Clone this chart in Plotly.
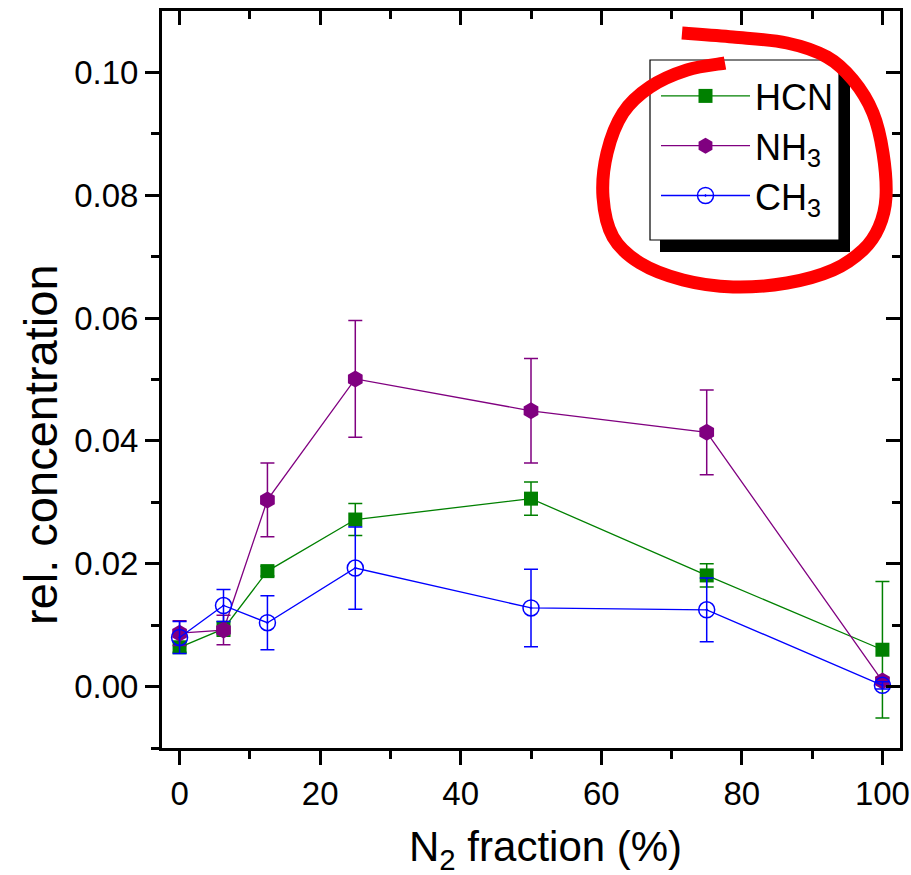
import plotly.graph_objects as go

# ---------------- data ----------------
n2_fraction = [0, 6.25, 12.5, 25, 50, 75, 100]
hcn = [0.0064, 0.0094, 0.0188, 0.0272, 0.0306, 0.0181, 0.0060]
hcn_err = [0.0008, 0.0012, 0.0008, 0.0026, 0.0027, 0.0019, 0.0111]
nh3 = [0.0087, 0.0092, 0.0304, 0.0501, 0.0449, 0.0414, 0.0009]
nh3_err = [0.0020, 0.0024, 0.0060, 0.0095, 0.0085, 0.0069, 0.0005]
ch3 = [0.0080, 0.0132, 0.0104, 0.0193, 0.0128, 0.0125, 0.0002]
ch3_err = [0.0026, 0.0026, 0.0044, 0.0067, 0.0063, 0.0052, 0.0006]

x_ticks = [0, 20, 40, 60, 80, 100]
x_minor = [10, 30, 50, 70, 90]
y_ticks = [0.00, 0.02, 0.04, 0.06, 0.08, 0.10]
y_minor = [-0.01, 0.01, 0.03, 0.05, 0.07, 0.09]

W, H = 911, 875
ML, MR, MT, MB = 162, 11, 11, 127
PW, PH = W - ML - MR, H - MT - MB
FONT = "Arial, Liberation Sans, sans-serif"


def px(xp):
    return (xp - ML) / PW


def py(yp):
    return 1 - (yp - MT) / PH


fig = go.Figure()
series = [
    ("HCN", hcn, hcn_err, "#008000", "square", 14, 0),
    ("NH<sub>3</sub>", nh3, nh3_err, "#800080", "hexagon", 17, 0),
    ("CH<sub>3</sub>", ch3, ch3_err, "#0000FF", "circle-open-dot", 16, 1.5),
]
for name, ys, es, col, sym, sz, lw in series:
    fig.add_trace(go.Scatter(
        x=n2_fraction, y=ys, name=name, mode="lines+markers",
        line=dict(color=col, width=1.3),
        marker=dict(symbol=sym, size=sz, color=col, line=dict(color=col, width=lw)),
        error_y=dict(type="data", array=es, color=col, thickness=1.5, width=7),
    ))
# empty trace so that the mirrored (top/right) frame axes are drawn
fig.add_trace(go.Scatter(x=[None], y=[None], xaxis="x2", yaxis="y2",
                         showlegend=False, hoverinfo="skip", mode="markers"))

axis_common = dict(showline=True, linecolor="black", linewidth=3, showgrid=False,
                   zeroline=False, tickcolor="black", tickwidth=2.5, automargin=False)

fig.update_layout(
    template="none",
    width=W, height=H,
    margin=dict(l=ML, r=MR, t=MT, b=MB),
    paper_bgcolor="white", plot_bgcolor="white",
    font=dict(family=FONT, color="black"),
    showlegend=True,
    legend=dict(x=px(656), y=py(66), xanchor="left", yanchor="top",
                bgcolor="rgba(0,0,0,0)", borderwidth=0,
                font=dict(size=36, family=FONT, color="black"), itemwidth=89),
    xaxis=dict(range=[-2.5, 102.5], ticks="outside", ticklen=14,
               tickvals=x_ticks, tickfont=dict(size=33),
               minor=dict(tickvals=x_minor, ticks="outside", ticklen=8,
                          tickwidth=2.5, tickcolor="black"),
               **axis_common),
    yaxis=dict(range=[-0.01, 0.11], ticks="outside", ticklen=14,
               tickvals=y_ticks, tickformat=".2f", tickfont=dict(size=33),
               minor=dict(tickvals=y_minor, ticks="outside", ticklen=8,
                          tickwidth=2.5, tickcolor="black"),
               **axis_common),
    xaxis2=dict(range=[-2.5, 102.5], overlaying="x", side="top", anchor="y2",
                ticks="inside", ticklen=14, tickvals=x_ticks, showticklabels=False,
                minor=dict(tickvals=x_minor, ticks="inside", ticklen=8,
                           tickwidth=2.5, tickcolor="black"),
                **axis_common),
    yaxis2=dict(range=[-0.01, 0.11], overlaying="y", side="right", anchor="x2",
                ticks="inside", ticklen=14, tickvals=y_ticks, showticklabels=False,
                minor=dict(tickvals=y_minor, ticks="inside", ticklen=8,
                           tickwidth=2.5, tickcolor="black"),
                **axis_common),
)

# axis titles
fig.add_annotation(text="rel. concentration", x=px(40), y=py(445), xref="paper",
                   yref="paper", textangle=-90, showarrow=False,
                   xanchor="center", yanchor="middle",
                   font=dict(size=47, family=FONT, color="black"))
fig.add_annotation(text="N<sub>2</sub> fraction (%)", x=px(545), y=py(849),
                   xref="paper", yref="paper", showarrow=False,
                   xanchor="center", yanchor="middle",
                   font=dict(size=42, family=FONT, color="black"))

# legend box with shadow
fig.add_shape(type="rect", xref="paper", yref="paper", x0=px(660), x1=px(850),
              y0=py(71), y1=py(252), fillcolor="black", line=dict(width=0), layer="above")
fig.add_shape(type="rect", xref="paper", yref="paper", x0=px(650), x1=px(839),
              y0=py(60), y1=py(240), fillcolor="white",
              line=dict(color="black", width=1.2), layer="above")

# red hand-drawn loop around the legend
loop = [(682, 33), (733, 37), (787, 43), (827, 57), (853, 80), (873, 113),
        (883, 153), (886, 197), (879, 227), (863, 250), (833, 270), (787, 283),
        (733, 287), (683, 280), (640, 263), (613, 237), (603, 197), (607, 153),
        (623, 113), (650, 87), (687, 70), (725, 63)]
pts = [(px(a), py(b)) for a, b in loop]
d = "M%.5f,%.5f" % pts[0]
for i in range(len(pts) - 1):
    p0 = pts[i - 1] if i > 0 else pts[i]
    p1, p2 = pts[i], pts[i + 1]
    p3 = pts[i + 2] if i + 2 < len(pts) else p2
    c1 = (p1[0] + (p2[0] - p0[0]) / 6, p1[1] + (p2[1] - p0[1]) / 6)
    c2 = (p2[0] - (p3[0] - p1[0]) / 6, p2[1] - (p3[1] - p1[1]) / 6)
    d += " C%.5f,%.5f %.5f,%.5f %.5f,%.5f" % (c1 + c2 + p2)
fig.add_shape(type="path", path=d, xref="paper", yref="paper",
              line=dict(color="#FF0000", width=13), layer="above")

fig.write_html("out.html")
